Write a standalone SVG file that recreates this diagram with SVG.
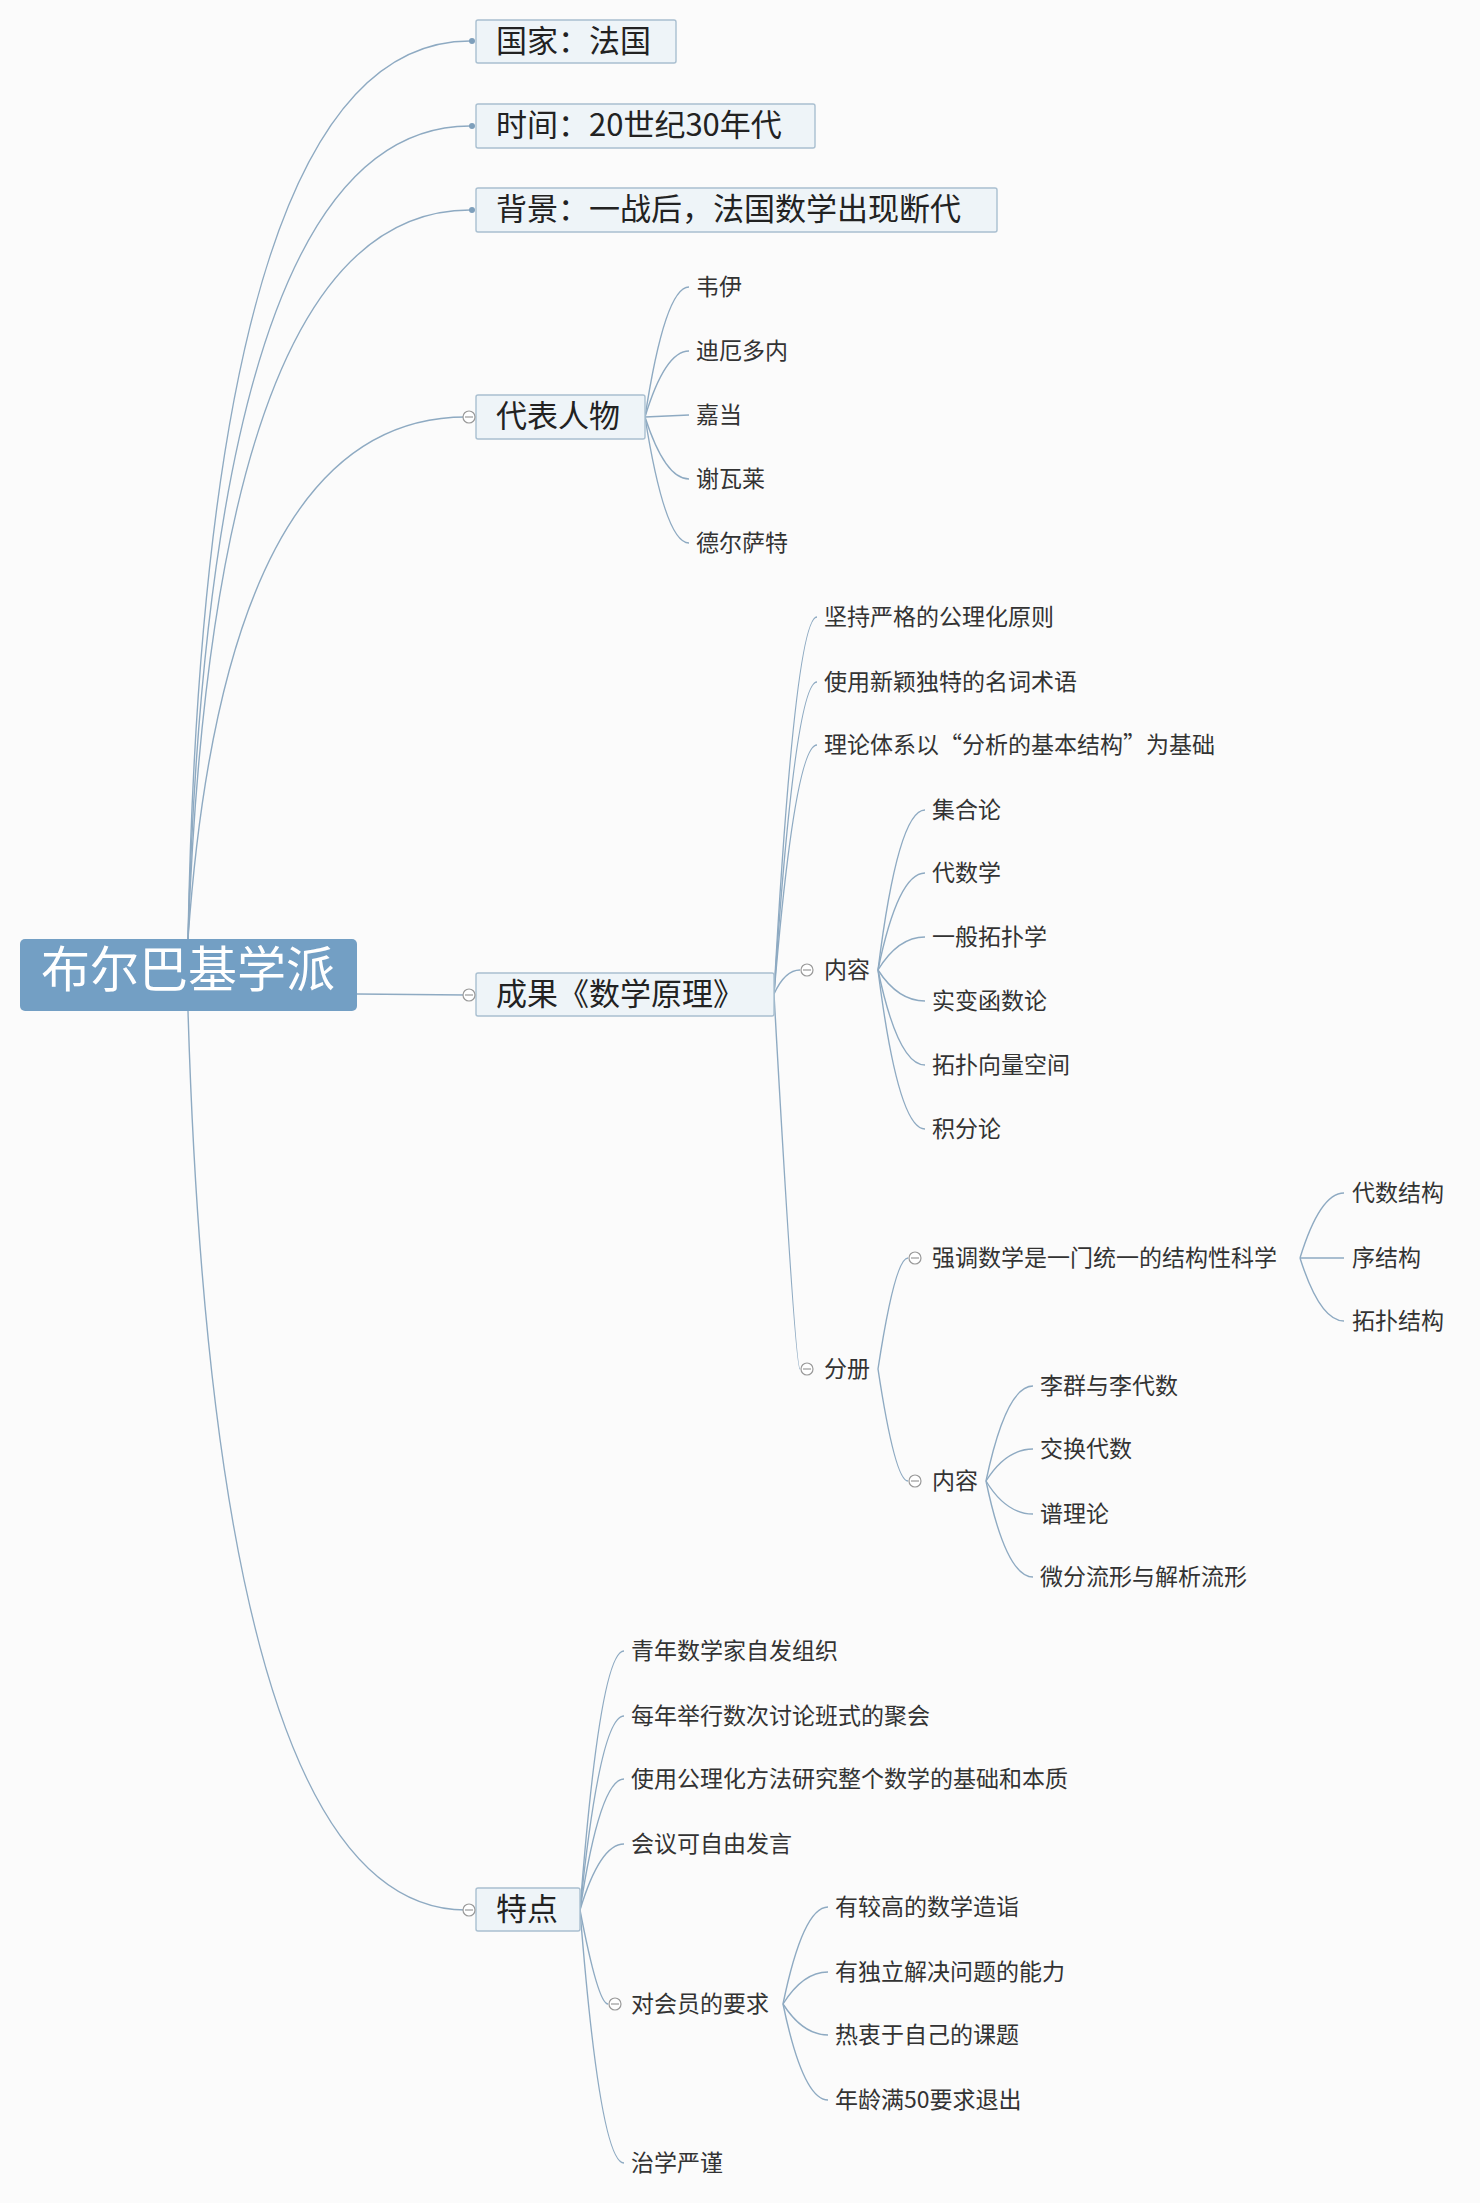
<svg xmlns="http://www.w3.org/2000/svg" width="1480" height="2203" viewBox="0 0 1480 2203">
<style>
.bg{fill:#fbfbfb}
.c{fill:none;stroke:#8eaac2;stroke-width:1.4}
.b1{fill:#eef4f8;stroke:#a9bfd0;stroke-width:1.4}
.t1{font-family:"Noto Sans CJK SC","Liberation Sans",sans-serif;font-size:31px;fill:#222}
.t2{font-family:"Noto Sans CJK SC","Liberation Sans",sans-serif;font-size:23px;fill:#333}
.dot{fill:#7e9fbb}
.col{fill:#fff;stroke:#999;stroke-width:1.2}
.m{stroke:#999;stroke-width:1.2}
</style>
<rect class="bg" width="1480" height="2203"/>
<g id="connectors">
<path class="c" d="M188,939 Q205,41 470,41"/>
<path class="c" d="M188,939 Q210,126 470,126"/>
<path class="c" d="M188,939 Q215,210 470,210"/>
<path class="c" d="M188,939 Q225,417 466,417"/>
<path class="c" d="M357,994 L466,995"/>
<path class="c" d="M188,1011 Q215,1910 466,1910"/>
<path class="c" d="M645,417 Q665,287 689,287"/>
<path class="c" d="M645,417 Q665,351 689,351"/>
<path class="c" d="M645,417 L689,415"/>
<path class="c" d="M645,417 Q665,479 689,479"/>
<path class="c" d="M645,417 Q665,543 689,543"/>
<path class="c" d="M774,994 Q795,617 817,617"/>
<path class="c" d="M774,994 Q795,682 817,682"/>
<path class="c" d="M774,994 Q795,745 817,745"/>
<path class="c" d="M774,994 Q785,970 800,970"/>
<path class="c" d="M774,994 Q795,1369 800,1369"/>
<path class="c" d="M878,970 Q898,810 925,810"/>
<path class="c" d="M878,970 Q898,873 925,873"/>
<path class="c" d="M878,970 Q898,937 925,937"/>
<path class="c" d="M878,970 Q898,1001 925,1001"/>
<path class="c" d="M878,970 Q898,1065 925,1065"/>
<path class="c" d="M878,970 Q898,1129 925,1129"/>
<path class="c" d="M878,1369 Q895,1258 908,1258"/>
<path class="c" d="M878,1369 Q895,1481 908,1481"/>
<path class="c" d="M1300,1258 Q1320,1193 1344,1193"/>
<path class="c" d="M1300,1258 L1344,1258"/>
<path class="c" d="M1300,1258 Q1320,1321 1344,1321"/>
<path class="c" d="M986,1481 Q1006,1386 1033,1386"/>
<path class="c" d="M986,1481 Q1006,1449 1033,1449"/>
<path class="c" d="M986,1481 Q1006,1514 1033,1514"/>
<path class="c" d="M986,1481 Q1006,1577 1033,1577"/>
<path class="c" d="M580,1910 Q600,1651 624,1651"/>
<path class="c" d="M580,1910 Q600,1716 624,1716"/>
<path class="c" d="M580,1910 Q600,1779 624,1779"/>
<path class="c" d="M580,1910 Q600,1844 624,1844"/>
<path class="c" d="M580,1910 Q598,2004 608,2004"/>
<path class="c" d="M580,1910 Q600,2163 624,2163"/>
<path class="c" d="M783,2004 Q803,1907 828,1907"/>
<path class="c" d="M783,2004 Q803,1972 828,1972"/>
<path class="c" d="M783,2004 Q803,2035 828,2035"/>
<path class="c" d="M783,2004 Q803,2100 828,2100"/>
</g>
<g id="root">
<rect x="20" y="939" width="337" height="72" rx="5" fill="#739fc4"/>
<text x="188" y="987" text-anchor="middle" font-family="Noto Sans CJK SC,Liberation Sans,sans-serif" font-size="49" fill="#fff">布尔巴基学派</text>
</g>
<g id="n1"><rect class="b1" x="476" y="20" width="200" height="43" rx="2"/><circle class="dot" cx="472" cy="41" r="3"/><text class="t1" x="496" y="52">国家：法国</text></g>
<g id="n2"><rect class="b1" x="476" y="104" width="339" height="44" rx="2"/><circle class="dot" cx="472" cy="126" r="3"/><text class="t1" x="496" y="136">时间：20世纪30年代</text></g>
<g id="n3"><rect class="b1" x="476" y="188" width="521" height="44" rx="2"/><circle class="dot" cx="472" cy="210" r="3"/><text class="t1" x="496" y="220">背景：一战后，法国数学出现断代</text></g>
<g id="n4"><rect class="b1" x="476" y="395" width="169" height="44" rx="2"/><circle class="col" cx="469" cy="417" r="6"/><line class="m" x1="465" y1="417" x2="473" y2="417"/><text class="t1" x="496" y="427">代表人物</text></g>
<g id="n4c">
<text class="t2" x="696" y="295">韦伊</text>
<text class="t2" x="696" y="359">迪厄多内</text>
<text class="t2" x="696" y="423">嘉当</text>
<text class="t2" x="696" y="487">谢瓦莱</text>
<text class="t2" x="696" y="551">德尔萨特</text>
</g>
<g id="n5"><rect class="b1" x="476" y="973" width="298" height="43" rx="2"/><circle class="col" cx="469" cy="995" r="6"/><line class="m" x1="465" y1="995" x2="473" y2="995"/><text class="t1" x="496" y="1005">成果《数学原理》</text></g>
<g id="n5c">
<text class="t2" x="824" y="625">坚持严格的公理化原则</text>
<text class="t2" x="824" y="690">使用新颖独特的名词术语</text>
<text class="t2" x="824" y="753">理论体系以“分析的基本结构”为基础</text>
<circle class="col" cx="807" cy="970" r="6"/><line class="m" x1="803" y1="970" x2="811" y2="970"/><text class="t2" x="824" y="978">内容</text>
<circle class="col" cx="807" cy="1369" r="6"/><line class="m" x1="803" y1="1369" x2="811" y2="1369"/><text class="t2" x="824" y="1377">分册</text>
</g>
<g id="n6c">
<text class="t2" x="932" y="818">集合论</text>
<text class="t2" x="932" y="881">代数学</text>
<text class="t2" x="932" y="945">一般拓扑学</text>
<text class="t2" x="932" y="1009">实变函数论</text>
<text class="t2" x="932" y="1073">拓扑向量空间</text>
<text class="t2" x="932" y="1137">积分论</text>
</g>
<g id="n7c">
<circle class="col" cx="915" cy="1258" r="6"/><line class="m" x1="911" y1="1258" x2="919" y2="1258"/><text class="t2" x="932" y="1266">强调数学是一门统一的结构性科学</text>
<text class="t2" x="1352" y="1201">代数结构</text>
<text class="t2" x="1352" y="1266">序结构</text>
<text class="t2" x="1352" y="1329">拓扑结构</text>
<circle class="col" cx="915" cy="1481" r="6"/><line class="m" x1="911" y1="1481" x2="919" y2="1481"/><text class="t2" x="932" y="1489">内容</text>
<text class="t2" x="1040" y="1394">李群与李代数</text>
<text class="t2" x="1040" y="1457">交换代数</text>
<text class="t2" x="1040" y="1522">谱理论</text>
<text class="t2" x="1040" y="1585">微分流形与解析流形</text>
</g>
<g id="n8"><rect class="b1" x="476" y="1888" width="104" height="43" rx="2"/><circle class="col" cx="469" cy="1910" r="6"/><line class="m" x1="465" y1="1910" x2="473" y2="1910"/><text class="t1" x="496" y="1920">特点</text></g>
<g id="n8c">
<text class="t2" x="631" y="1659">青年数学家自发组织</text>
<text class="t2" x="631" y="1724">每年举行数次讨论班式的聚会</text>
<text class="t2" x="631" y="1787">使用公理化方法研究整个数学的基础和本质</text>
<text class="t2" x="631" y="1852">会议可自由发言</text>
<circle class="col" cx="615" cy="2004" r="6"/><line class="m" x1="611" y1="2004" x2="619" y2="2004"/><text class="t2" x="631" y="2012">对会员的要求</text>
<text class="t2" x="835" y="1915">有较高的数学造诣</text>
<text class="t2" x="835" y="1980">有独立解决问题的能力</text>
<text class="t2" x="835" y="2043">热衷于自己的课题</text>
<text class="t2" x="835" y="2108">年龄满50要求退出</text>
<text class="t2" x="631" y="2171">治学严谨</text>
</g>
</svg>
